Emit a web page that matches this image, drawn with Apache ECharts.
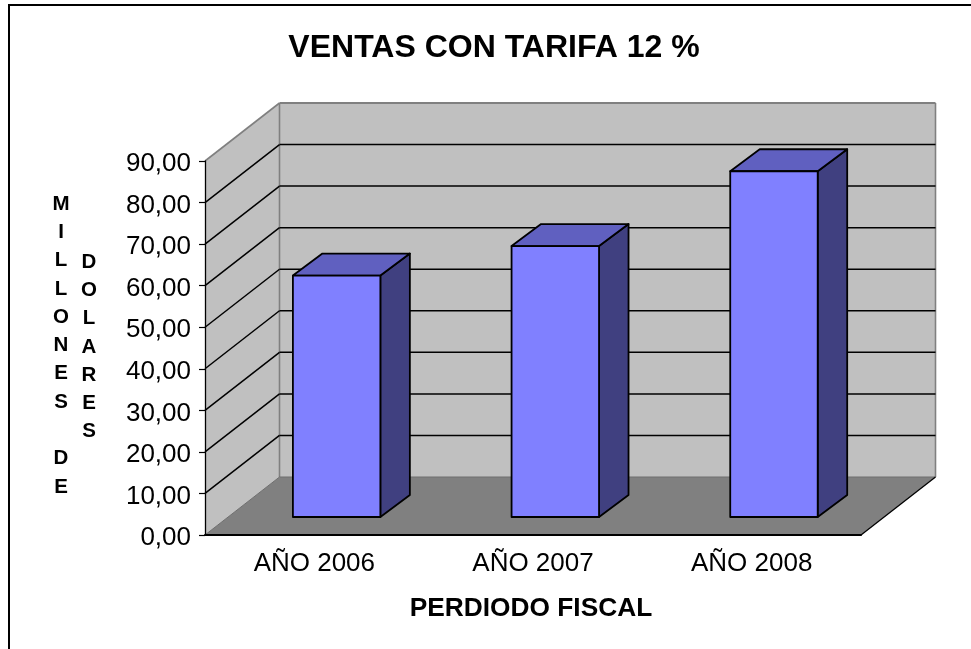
<!DOCTYPE html>
<html>
<head>
<meta charset="utf-8">
<style>html,body{margin:0;padding:0;background:#fff}#c{width:971px;height:649px}</style>
<script src="https://cdn.jsdelivr.net/npm/echarts@6/dist/echarts.min.js"></script>
</head>
<body>
<div id="c"></div>
<script>
const categories = ['AÑO 2006', 'AÑO 2007', 'AÑO 2008'];
const sales = [58.1, 65.2, 83.2];
const gridValues = [10, 20, 30, 40, 50, 60, 70, 80, 90];
const titleText = 'VENTAS CON TARIFA 12 %';
const xTitle = 'PERDIODO FISCAL';
const yTitleLeft = ['M','I','L','L','O','N','E','S',' ','D','E'];
const yTitleRight = ['D','O','L','A','R','E','S'];

const FONT = '"Liberation Sans", Arial, sans-serif';
const ROOM_DX = 74.5, ROOM_DY = -58;
const BAR_DX = 29.5, BAR_DY = -22;
const BAR_SHIFT_X = 22.3, BAR_SHIFT_Y = -18;
const BAR_WIDTH_RATIO = 0.4;
const EDGE = '#808080', WALL = '#C0C0C0', FLOOR = '#808080';

const poly = (points, fill, stroke, lw) => ({
  type: 'polygon', shape: { points },
  style: { fill, stroke: stroke || fill, lineWidth: lw === undefined ? 1 : lw, lineJoin: 'round' }
});
const line = (a, b, stroke, lw) => ({
  type: 'line', shape: { x1: a[0], y1: a[1], x2: b[0], y2: b[1] },
  style: { stroke, lineWidth: lw, fill: null }
});

function renderRoom(params, api) {
  const cs = params.coordSys;
  const l = cs.x, r = cs.x + cs.width;
  const y0 = api.coord([0, 0])[1], yT = api.coord([0, api.value(1)])[1];
  const d = (p) => [p[0] + ROOM_DX, p[1] + ROOM_DY];
  const fl = [l, y0], fr = [r, y0], tl = [l, yT];
  const bl = d(fl), br = d(fr), btl = d(tl), btr = d([r, yT]);
  return { type: 'group', children: [
    poly([btl, btr, br, bl], WALL, WALL, 0),
    poly([tl, btl, bl, fl], WALL, WALL, 0),
    poly([fl, fr, br, bl], FLOOR, FLOOR, 0),
    line(tl, btl, EDGE, 1.6),
    line(btl, btr, EDGE, 2),
    line(btl, bl, EDGE, 1.6),
    line(btr, br, EDGE, 1.6),
    line(bl, br, '#6e6e6e', 1),
    line(fl, bl, '#6e6e6e', 1),
    line(fr, br, '#000', 1.3)
  ]};
}
function renderGrid(params, api) {
  const cs = params.coordSys;
  const y = api.coord([0, api.value(1)])[1];
  const a = [cs.x, y], b = [cs.x + ROOM_DX, y + ROOM_DY], c = [cs.x + cs.width + ROOM_DX, y + ROOM_DY];
  return { type: 'group', children: [line(a, b, '#000', 1.5), line(b, c, '#000', 1.5)] };
}
function renderBar(params, api) {
  const top = api.coord([api.value(0), api.value(1)]);
  const base = api.coord([api.value(0), 0]);
  const w = api.size([1, 0])[0] * BAR_WIDTH_RATIO;
  const x1 = top[0] + BAR_SHIFT_X - w / 2, x2 = x1 + w;
  const yt = top[1] + BAR_SHIFT_Y, yb = base[1] + BAR_SHIFT_Y;
  const s = (x, y) => [x + BAR_DX, y + BAR_DY];
  const st = '#000', lw = 1.8;
  return { type: 'group', children: [
    poly([[x2, yt], s(x2, yt), s(x2, yb), [x2, yb]], '#404080', st, lw),
    poly([[x1, yt], s(x1, yt), s(x2, yt), [x2, yt]], '#6060C0', st, lw),
    poly([[x1, yt], [x2, yt], [x2, yb], [x1, yb]], '#8080FF', st, lw)
  ]};
}
const stackText = (chars, cx, top) => chars.map((ch, i) => ({
  type: 'text', x: cx, y: top + i * 28.3,
  style: { text: ch, font: 'bold 20.5px ' + FONT, fill: '#000', align: 'center', verticalAlign: 'middle' }
}));

const chart = echarts.init(document.getElementById('c'), null, { renderer: 'canvas' });
chart.setOption({
  animation: false,
  backgroundColor: '#fff',
  title: {
    text: titleText, left: 489, top: 27, textAlign: 'center',
    textStyle: { fontFamily: FONT, fontWeight: 'bold', fontSize: 32, color: '#000' }
  },
  grid: { left: 205, top: 161, width: 656, height: 374 },
  xAxis: {
    type: 'category', data: categories, z: 10,
    axisLine: { lineStyle: { color: '#000', width: 2 } },
    axisTick: { length: 6, lineStyle: { color: '#000', width: 1.2 } },
    axisLabel: { color: '#000', fontFamily: FONT, fontSize: 26, margin: 16 },
    name: xTitle, nameLocation: 'middle', nameGap: 61,
    nameTextStyle: { color: '#000', fontFamily: FONT, fontWeight: 'bold', fontSize: 26.3, padding: [0, 4, 0, 0] }
  },
  yAxis: {
    type: 'value', min: 0, max: 90, interval: 10, z: 10,
    axisLine: { show: true, lineStyle: { color: '#000', width: 1.3 } },
    axisTick: { show: true, length: 6, lineStyle: { color: '#000', width: 1.2 } },
    splitLine: { show: false },
    axisLabel: {
      color: '#000', fontFamily: FONT, fontSize: 26, margin: 14,
      verticalAlign: 'top', lineHeight: 6,
      formatter: (v) => v.toFixed(2).replace('.', ',')
    }
  },
  series: [
    { type: 'custom', silent: true, clip: false, z: 1, coordinateSystem: 'cartesian2d',
      renderItem: renderRoom, encode: { x: 0, y: 1 }, data: [[0, gridValues[gridValues.length - 1]]] },
    { type: 'custom', silent: true, clip: false, z: 2, coordinateSystem: 'cartesian2d',
      renderItem: renderGrid, encode: { x: 0, y: 1 }, data: gridValues.slice(0, -1).map(v => [0, v]) },
    { type: 'custom', silent: true, clip: false, z: 3, coordinateSystem: 'cartesian2d',
      renderItem: renderBar, encode: { x: 0, y: 1 }, data: sales.map((v, i) => [i, v]) }
  ],
  graphic: [
    { type: 'line', shape: { x1: 9, y1: 5, x2: 971, y2: 5 }, style: { stroke: '#000', lineWidth: 2 } },
    { type: 'line', shape: { x1: 9, y1: 4, x2: 9, y2: 649 }, style: { stroke: '#000', lineWidth: 2 } },
    ...stackText(yTitleLeft, 61, 204),
    ...stackText(yTitleRight, 89, 262)
  ]
});
</script>
</body>
</html>
